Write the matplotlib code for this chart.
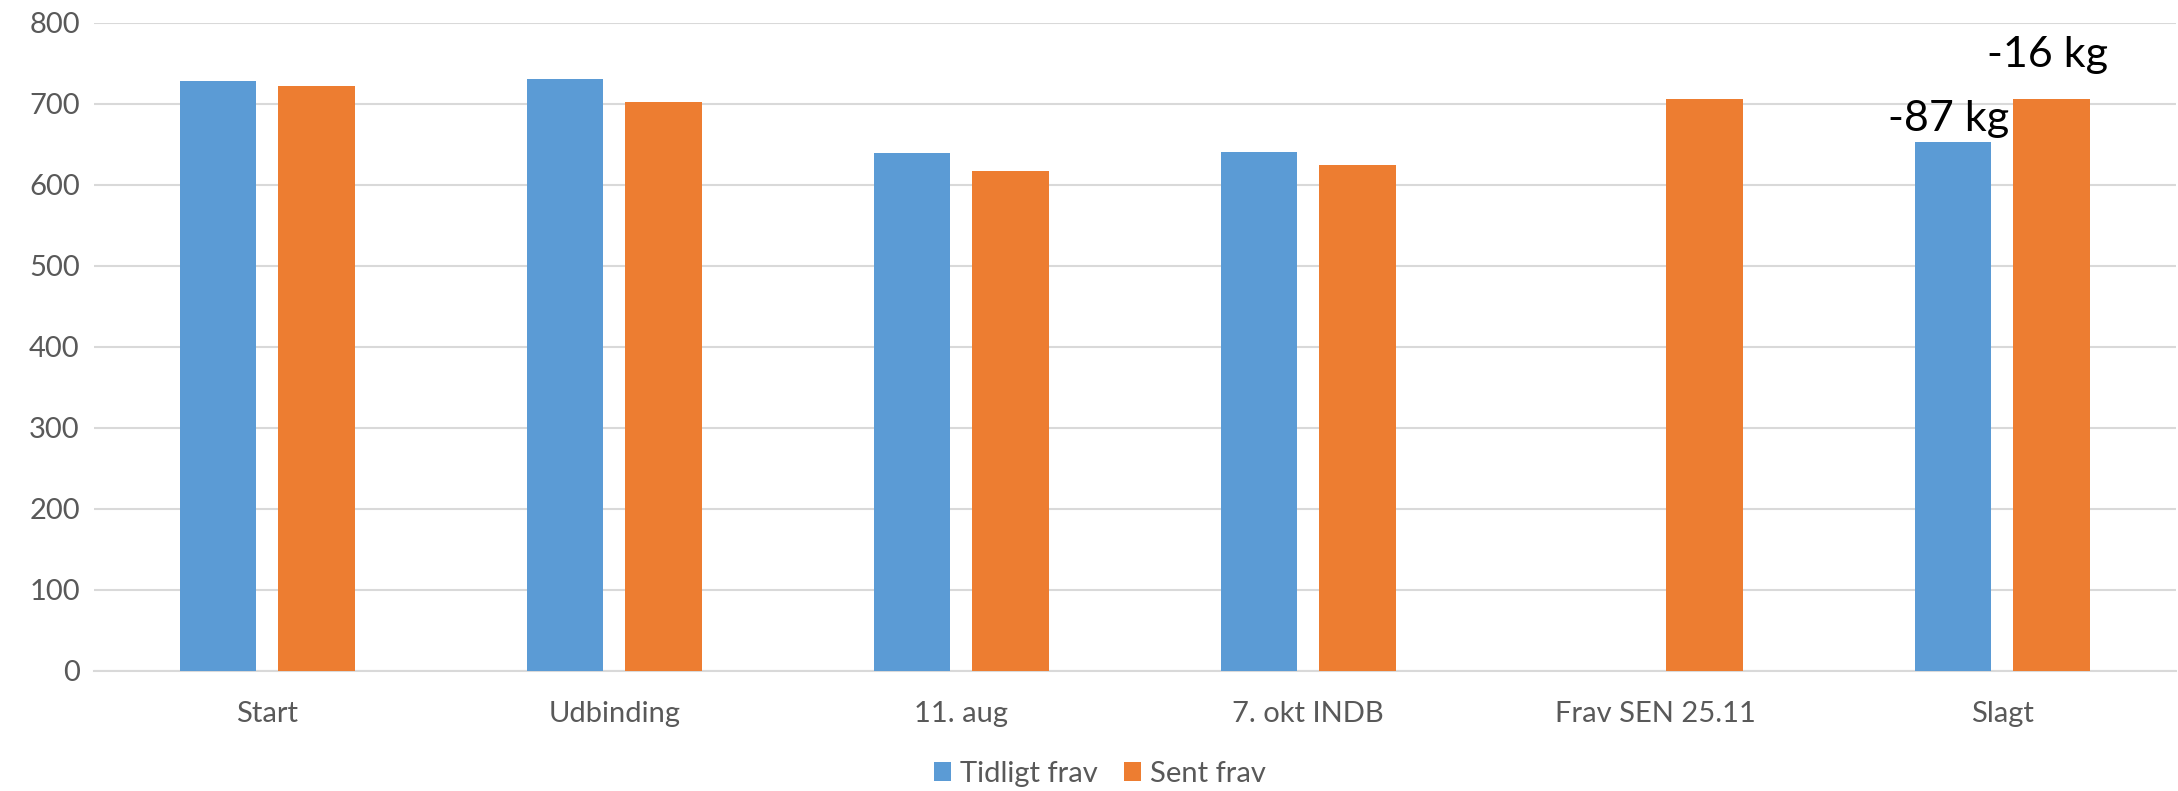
import matplotlib.pyplot as plt
import numpy as np

# vægt pr. gruppe, kg
kategorier = ['Start', 'Udbinding', '11. aug', '7. okt INDB', 'Frav SEN 25.11', 'Slagt']
tidligt_frav = [728, 731, 639, 641, np.nan, 653]
sent_frav = [722, 702, 617, 624, 706, 706]
slagt_labels = ['-87 kg', '-16 kg']

BLUE = '#5B9BD5'
ORANGE = '#ED7D31'
GRID = '#D9D9D9'
TXT = '#595959'

plt.rcParams['font.family'] = ['Lato', 'DejaVu Sans']

fig = plt.figure(figsize=(21.78, 7.91), dpi=100)
ax = fig.add_axes([0.043, 0.152, 0.956, 0.819])

x = np.arange(len(kategorier))
w = 0.22
off = 0.142
b1 = ax.bar(x - off, tidligt_frav, w, color=BLUE, label='Tidligt frav', zorder=3)
b2 = ax.bar(x + off, sent_frav, w, color=ORANGE, label='Sent frav', zorder=3)

# forskel ved slagt
ax.annotate(slagt_labels[0], (x[-1] - off, tidligt_frav[-1]), xytext=(-3, 3),
            textcoords='offset points', ha='center', va='bottom', fontsize=31, color='black')
ax.annotate(slagt_labels[1], (x[-1] + off, sent_frav[-1]), xytext=(-3, 18),
            textcoords='offset points', ha='center', va='bottom', fontsize=31, color='black')

ax.set_xlim(-0.5, len(kategorier) - 0.5)
ax.set_ylim(0, 800)
ax.set_yticks(range(0, 801, 100))
ax.set_xticks(x)
ax.set_xticklabels(kategorier)
ax.grid(axis='y', color=GRID, linewidth=1.5, zorder=0)
ax.tick_params(axis='both', length=0, labelsize=21, colors=TXT)
ax.tick_params(axis='x', pad=22)
ax.tick_params(axis='y', pad=10)
for s in ['top', 'right', 'left']:
    ax.spines[s].set_visible(False)
ax.spines['bottom'].set_color(GRID)
ax.spines['bottom'].set_linewidth(1.5)

fig.legend(handles=[b1, b2], loc='center', bbox_to_anchor=(0.505, 0.022), ncol=2,
           frameon=False, fontsize=21, handlelength=0.6, handleheight=0.6,
           handletextpad=0.3, columnspacing=0.9, labelcolor=TXT)

fig.savefig('out.png', dpi=100)
